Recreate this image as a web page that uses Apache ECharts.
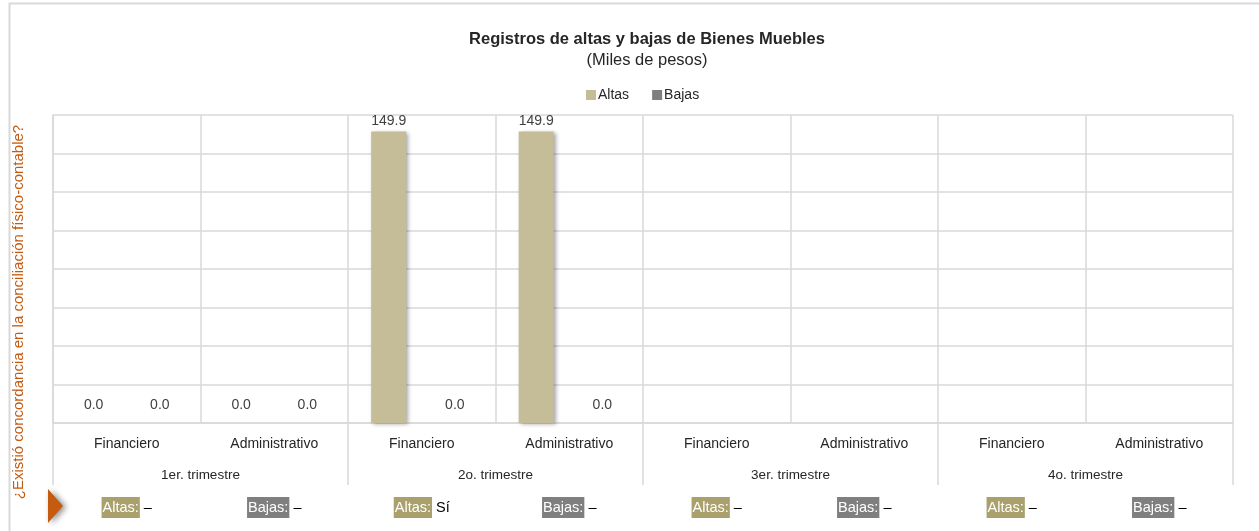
<!DOCTYPE html>
<html>
<head>
<meta charset="utf-8">
<script src="https://cdn.jsdelivr.net/npm/echarts@6/dist/echarts.min.js"></script>
<style>
html,body{margin:0;padding:0;background:#fff;}
#chart{width:1259px;height:531px;}
</style>
</head>
<body>
<div id="chart"></div>
<script>
const categories = ["Financiero","Administrativo","Financiero","Administrativo","Financiero","Administrativo","Financiero","Administrativo"];
const quarters = ["1er. trimestre","2o. trimestre","3er. trimestre","4o. trimestre"];
const altas = [0.0, 0.0, 149.9, 149.9, null, null, null, null];
const bajas = [0.0, 0.0, 0.0, 0.0, null, null, null, null];
const statusTypes = ["Altas:","Bajas:","Altas:","Bajas:","Altas:","Bajas:","Altas:","Bajas:"];
const statusValues = ["–","–","Sí","–","–","–","–","–"];
const seriesNames = ["Altas","Bajas"];
const titleText = "Registros de altas y bajas de Bienes Muebles";
const subtitleText = "(Miles de pesos)";
const yName = "¿Existió concordancia en la conciliación físico-contable?";

const FONT = "Liberation Sans, Arial, sans-serif";
const GRID_COLOR = "#d9d9d9";
const TXT = "#262626";

function withLabelOffsets(arr){
  return arr.map(v => (v === 0 ? {value: v, label: {offset: [0, -8]}} : v));
}

const chart = echarts.init(document.getElementById('chart'), null, {renderer:'canvas'});
const barLabel = {
  show: true, position: 'top', distance: 3,
  color: '#404040', fontSize: 14, fontFamily: FONT,
  formatter: p => (p.value == null ? '' : Number(p.value).toFixed(1))
};
const option = {
  backgroundColor: '#fff',
  textStyle: {fontFamily: FONT},
  title: {
    text: titleText, subtext: subtitleText,
    left: 642, top: 26, textAlign: 'center', itemGap: 4,
    textStyle: {fontSize: 16.5, fontWeight: 'bold', color: TXT, fontFamily: FONT},
    subtextStyle: {fontSize: 16.5, color: TXT, fontFamily: FONT}
  },
  legend: {
    data: seriesNames, left: 581, top: 83, icon: 'rect',
    itemWidth: 10, itemHeight: 10, itemGap: 23,
    textStyle: {fontSize: 14, color: TXT, fontFamily: FONT, padding: [0,0,0,-3]}
  },
  grid: {left: 53, right: 26, top: 115, bottom: 108, containLabel: false},
  xAxis: [
    {
      type: 'category', data: categories, position: 'bottom',
      axisLine: {show: true, lineStyle: {color: GRID_COLOR, width: 1.5}},
      axisTick: {show: false},
      splitLine: {show: true, interval: 0, lineStyle: {color: GRID_COLOR, width: 1.5}},
      axisLabel: {interval: 0, margin: 14, fontSize: 14, color: TXT, fontFamily: FONT}
    },
    {
      type: 'category', data: quarters, position: 'bottom',
      axisLine: {show: false},
      axisTick: {show: true, length: 62, lineStyle: {color: GRID_COLOR, width: 1.5}},
      axisLabel: {interval: 0, margin: 45, fontSize: 13.5, color: TXT, fontFamily: FONT}
    },
    {
      type: 'category', data: categories, position: 'bottom',
      axisLine: {show: false}, axisTick: {show: false},
      axisLabel: {
        interval: 0, margin: 74,
        formatter: (v, i) => '{' + (statusTypes[i] === 'Altas:' ? 'a' : 'b') + '|' + statusTypes[i] + '}{v| ' + statusValues[i] + '}',
        rich: {
          a: {backgroundColor: '#a9a06b', color: '#fff', fontSize: 14.5, fontFamily: FONT, padding: [3,1,3,1]},
          b: {backgroundColor: '#7f7f7f', color: '#fff', fontSize: 14.5, fontFamily: FONT, padding: [3,1,3,1]},
          v: {color: '#000', fontSize: 14.5, fontFamily: FONT}
        }
      }
    }
  ],
  yAxis: {
    type: 'value', min: 0, max: 158.4, interval: 19.8,
    axisLabel: {show: false}, axisTick: {show: false},
    axisLine: {show: true, lineStyle: {color: GRID_COLOR, width: 1.5}},
    splitLine: {show: true, lineStyle: {color: GRID_COLOR, width: 1.5}}
  },
  series: [
    {
      name: seriesNames[0], type: 'bar', xAxisIndex: 0, data: withLabelOffsets(altas),
      barWidth: 35, barGap: '89%',
      itemStyle: {color: '#c4bd97', shadowColor: 'rgba(0,0,0,0.35)', shadowBlur: 4, shadowOffsetX: 2, shadowOffsetY: 1},
      label: barLabel
    },
    {
      name: seriesNames[1], type: 'bar', xAxisIndex: 0, data: withLabelOffsets(bajas),
      barWidth: 35,
      itemStyle: {color: '#7f7f7f', shadowColor: 'rgba(0,0,0,0.35)', shadowBlur: 4, shadowOffsetX: 2, shadowOffsetY: 1},
      label: barLabel
    }
  ],
  graphic: [
    {type: 'rect', silent: true, z: -1, shape: {x: 9.5, y: 3.5, width: 1400, height: 700},
     style: {fill: 'none', stroke: '#d9d9d9', lineWidth: 2}},
    {type: 'text', x: 19, y: 312, rotation: Math.PI/2,
     style: {text: yName, fill: '#c55a11', fontSize: 15, fontFamily: FONT, align: 'center', verticalAlign: 'middle'}},
    {type: 'polygon', shape: {points: [[48,489],[63,506],[48,523]]},
     style: {fill: '#c55a11', shadowColor: 'rgba(0,0,0,0.45)', shadowBlur: 6, shadowOffsetX: 3, shadowOffsetY: 1}}
  ]
};
chart.setOption(option);
</script>
</body>
</html>
